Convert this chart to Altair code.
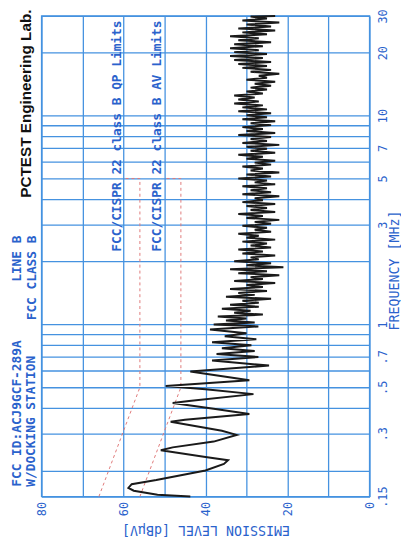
import altair as alt
import pandas as pd

# ---------------- data ----------------
LF_FREQ = [
    0.150, 0.153, 0.160, 0.165, 0.172, 0.180, 0.200, 0.215, 0.224, 0.232,
    0.250, 0.258, 0.275, 0.296, 0.310, 0.342, 0.350, 0.373, 0.395, 0.421,
    0.430, 0.464, 0.490, 0.507, 0.541, 0.596, 0.636, 0.672, 0.699, 0.722,
    0.746, 0.770, 0.796, 0.822, 0.850, 0.878, 0.907, 0.947, 0.979,
]
LF_LEVEL = [
    43.7, 51.7, 57.5, 58.8, 58.0, 52.0, 40.0, 35.5, 34.5, 40.0,
    50.9, 48.0, 38.0, 32.4, 36.0, 48.5, 45.0, 29.3, 38.0, 48.0,
    44.0, 28.3, 40.0, 49.7, 29.3, 43.7, 24.5, 38.4, 27.1, 37.3,
    28.0, 36.0, 28.8, 38.4, 27.6, 35.3, 30.0, 38.9, 27.1,
]
HF_FREQ = [
    1.000, 1.022, 1.044, 1.067, 1.091, 1.115, 1.139, 1.164, 1.190, 1.216,
    1.243, 1.270, 1.298, 1.327, 1.356, 1.386, 1.416, 1.447, 1.479, 1.512,
    1.545, 1.579, 1.614, 1.649, 1.685, 1.722, 1.760, 1.799, 1.839, 1.879,
    1.920, 1.963, 2.006, 2.050, 2.095, 2.141, 2.188, 2.236, 2.286, 2.336,
    2.387, 2.440, 2.493, 2.548, 2.604, 2.662, 2.720, 2.780, 2.841, 2.903,
    2.967, 3.033, 3.099, 3.168, 3.237, 3.309, 3.381, 3.456, 3.532, 3.609,
    3.689, 3.770, 3.853, 3.937, 4.024, 4.112, 4.203, 4.295, 4.390, 4.486,
    4.585, 4.686, 4.789, 4.894, 5.002, 5.112, 5.224, 5.339, 5.457, 5.577,
    5.699, 5.825, 5.953, 6.084, 6.218, 6.354, 6.494, 6.637, 6.783, 6.932,
    7.085, 7.241, 7.400, 7.563, 7.729, 7.899, 8.073, 8.251, 8.432, 8.618,
    8.807, 9.001, 9.199, 9.402, 9.608, 9.820, 10.04, 10.26, 10.48, 10.71,
    10.95, 11.19, 11.43, 11.69, 11.94, 12.21, 12.47, 12.75, 13.03, 13.32,
    13.61, 13.91, 14.21, 14.53, 14.85, 15.17, 15.51, 15.85, 16.20, 16.55,
    16.92, 17.29, 17.67, 18.06, 18.45, 18.86, 19.27, 19.70, 20.13, 20.57,
    21.03, 21.49, 21.96, 22.44, 22.94, 23.44, 23.96, 24.49, 25.02, 25.57,
    26.14, 26.71, 27.30, 27.90, 28.51, 29.14, 29.78, 30.0,
]
HF_LEVEL = [
    38, 28, 35, 30, 37, 26, 33, 29, 36, 27,
    34, 27, 31, 24, 35, 28, 32, 25, 34, 26,
    30, 23, 33, 26, 29, 22, 32, 25, 34, 21,
    30, 24, 33, 27, 29, 23, 31, 26, 32, 24,
    29, 25, 31, 23, 30, 27, 32, 24, 28, 25,
    31, 24, 28, 22, 30, 26, 32, 23, 29, 25,
    30, 23, 31, 26, 28, 22, 31, 24, 29, 25,
    31, 23, 28, 25, 32, 24, 30, 22, 29, 26,
    31, 24, 28, 23, 30, 26, 32, 23, 29, 25,
    30, 22, 31, 25, 29, 24, 32, 23, 30, 26,
    31, 24, 29, 23, 31, 25, 30, 24, 32, 25,
    31, 26, 33, 27, 32, 28, 33, 26, 30, 25,
    29, 24, 28, 23, 30, 25, 27, 22, 29, 24,
    31, 25, 32, 24, 33, 26, 34, 25, 33, 27,
    34, 26, 33, 24, 32, 27, 34, 25, 31, 23,
    32, 24, 30, 22, 31, 25, 29, 23,
]

QP_FREQ = [0.15, 0.5, 5.0, 5.0]
QP_LEVEL = [66, 56, 56, 60]
AV_FREQ = [0.15, 0.5, 5.0, 5.0]
AV_LEVEL = [56, 46, 46, 50]

FREQ_GRID = [0.15, 0.2, 0.3, 0.4, 0.5, 0.6, 0.7, 0.8, 0.9,
             1, 2, 3, 4, 5, 6, 7, 8, 9, 10, 20, 30]
FREQ_LABELED = [0.15, 0.3, 0.5, 0.7, 1, 3, 5, 7, 10, 20, 30]
LEVEL_GRID = [0, 10, 20, 30, 40, 50, 60, 70, 80]
LEVEL_LABELED = [0, 20, 40, 60, 80]

TITLE = "PCTEST Engineering Lab."
HEAD_LINE1 = ["FCC ID:ACJ9GCF-289A", "LINE B"]
HEAD_LINE2 = ["W/DOCKING STATION", "FCC CLASS B"]
QP_TEXT = "FCC/CISPR 22 class B QP Limits"
AV_TEXT = "FCC/CISPR 22 class B AV Limits"

# ---------------- styles ----------------
BLUE_GRID = "#4592e0"
BLUE_TEXT = "#2a62cc"
RED = "#e07a7a"
MONO = "DejaVu Sans Mono"
W, H = 333, 488

trace_freq = LF_FREQ + HF_FREQ
trace_level = LF_LEVEL + HF_LEVEL
trace_df = pd.DataFrame({"freq": trace_freq, "level": trace_level,
                         "idx": list(range(len(trace_freq)))})
qp_df = pd.DataFrame({"freq": QP_FREQ, "level": QP_LEVEL, "idx": list(range(len(QP_FREQ)))})
av_df = pd.DataFrame({"freq": AV_FREQ, "level": AV_LEVEL, "idx": list(range(len(AV_FREQ)))})

x_scale = alt.Scale(domain=[0, 80], reverse=True, nice=False, zero=False)
y_scale = alt.Scale(type="log", domain=[0.15, 30], nice=False)

lab_f = "[" + ",".join(str(v) for v in FREQ_LABELED) + "]"
lab_l = "[" + ",".join(str(v) for v in LEVEL_LABELED) + "]"

x_axis = alt.Axis(
    values=LEVEL_GRID, grid=True, ticks=False, domain=False,
    labelExpr=f"indexof({lab_l}, datum.value) >= 0 ? toString(datum.value) : ''",
    labelAngle=270, labelAlign="right", labelBaseline="middle", labelPadding=5,
    labelOverlap=False, labelFlush=False,
    title="EMISSION LEVEL [dBµV]", titleAngle=180, titleAlign="center",
    titleBaseline="middle", titleX=W / 2, titleY=33,
)
y_axis = alt.Axis(
    orient="right", values=FREQ_GRID, grid=True, ticks=False, domain=False,
    labelExpr=(f"indexof({lab_f}, datum.value) >= 0 ? "
               "(datum.value < 1 ? substring(toString(datum.value), 1) : toString(datum.value)) : ''"),
    labelAngle=270, labelAlign="center", labelBaseline="top", labelPadding=8,
    labelOverlap=False, labelFlush=False,
    title="FREQUENCY [MHz]", titleAngle=270, titleAlign="center",
    titleBaseline="middle", titleX=25, titleY=258,
)

X = alt.X("level:Q", scale=x_scale, axis=x_axis)
Y = alt.Y("freq:Q", scale=y_scale, axis=y_axis)

trace = alt.Chart(trace_df).mark_line(color="#1a1a1a", strokeWidth=2.0).encode(
    x=X, y=Y, order="idx:Q")
qp = alt.Chart(qp_df).mark_line(color=RED, strokeWidth=1, strokeDash=[3, 3]).encode(
    x=X, y=Y, order="idx:Q")
av = alt.Chart(av_df).mark_line(color=RED, strokeWidth=1, strokeDash=[3, 3]).encode(
    x=X, y=Y, order="idx:Q")

def label(text, x, y, align, size=13, color=BLUE_TEXT, font=MONO, weight="bold"):
    return alt.Chart(pd.DataFrame({"t": [text]})).mark_text(
        angle=270, align=align, baseline="middle", fontSize=size, color=color,
        font=font, fontWeight=weight,
    ).encode(text="t:N", x=alt.value(x), y=alt.value(y))

texts = [
    label(TITLE, -16, 89, "center", size=15.5, color="#111111",
          font="Liberation Sans", weight="bold"),
    label(HEAD_LINE1[1], -25, 223, "right"),
    label(HEAD_LINE2[1], -10, 223, "right"),
    label(HEAD_LINE1[0], -25, 478, "left"),
    label(HEAD_LINE2[0], -11, 478, "left"),
    label(QP_TEXT, 77, 122, "center"),
    label(AV_TEXT, 117, 122, "center"),
]

chart = alt.layer(qp, av, trace, *texts).properties(
    width=W, height=H,
    padding={"left": 34, "top": 4, "right": 32, "bottom": 38},
    autosize=alt.AutoSizeParams(type="none"),
).configure_view(
    stroke=BLUE_GRID, strokeWidth=1.4
).configure_axis(
    gridColor=BLUE_GRID, gridWidth=1.3, gridOpacity=1,
    labelColor=BLUE_TEXT, labelFont=MONO, labelFontSize=12,
    titleColor=BLUE_TEXT, titleFont=MONO, titleFontSize=13.5, titleFontWeight="normal",
)

chart.save("out.html", embed_options={"renderer": "svg", "actions": False})
